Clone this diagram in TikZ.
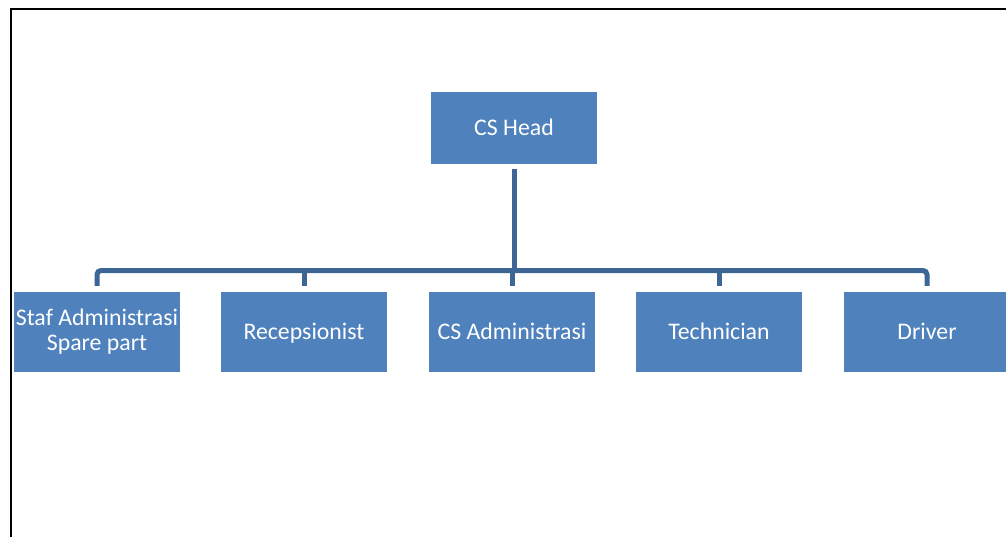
\documentclass[tikz,border=0pt]{standalone}
\usepackage{fontspec}
\setmainfont{Carlito}
\definecolor{boxblue}{HTML}{4F81BD}
\definecolor{connblue}{HTML}{3D6596}
\begin{document}
\begin{tikzpicture}[x=1pt,y=-1pt,
  orgbox/.style={rectangle, fill=boxblue, text=white, inner sep=0pt,
    minimum width=166pt, minimum height=80pt, align=center,
    font=\fontsize{23.8pt}{25pt}\selectfont},
  oneline/.style={text height=15pt, text depth=0pt},
  conn/.style={draw=connblue, line width=5pt}]
\useasboundingbox (0,0) rectangle (1006,536);
\clip (0,0) rectangle (1006,536);
\fill[white] (0,0) rectangle (1006,536);
\draw[line width=2.5pt, black] (11,545) -- (11,9) -- (1020,9);
\node[orgbox, oneline, minimum height=72pt] (head) at (514,128) {CS Head};
\node[orgbox] (staf) at (97,332) {Staf Administrasi\\Spare part};
\node[orgbox, oneline] (rec) at (304,332) {Recepsionist};
\node[orgbox, oneline] (csa) at (512,332) {CS Administrasi};
\node[orgbox, oneline] (tech) at (719,332) {Technician};
\node[orgbox, oneline] (drv) at (927,332) {Driver};
\coordinate (bus) at (512,270.5);
\draw[conn, rounded corners=4pt] ([yshift=6pt]staf.north) |- (bus) -| ([yshift=6pt]drv.north);
\draw[conn] ([yshift=6pt]rec.north) -- (rec.north |- bus);
\draw[conn] ([yshift=6pt]csa.north) -- (csa.north |- bus);
\draw[conn] ([yshift=6pt]tech.north) -- (tech.north |- bus);
\draw[conn, shorten <=5pt] (head.south) -- (head.south |- bus);
\end{tikzpicture}
\end{document}
